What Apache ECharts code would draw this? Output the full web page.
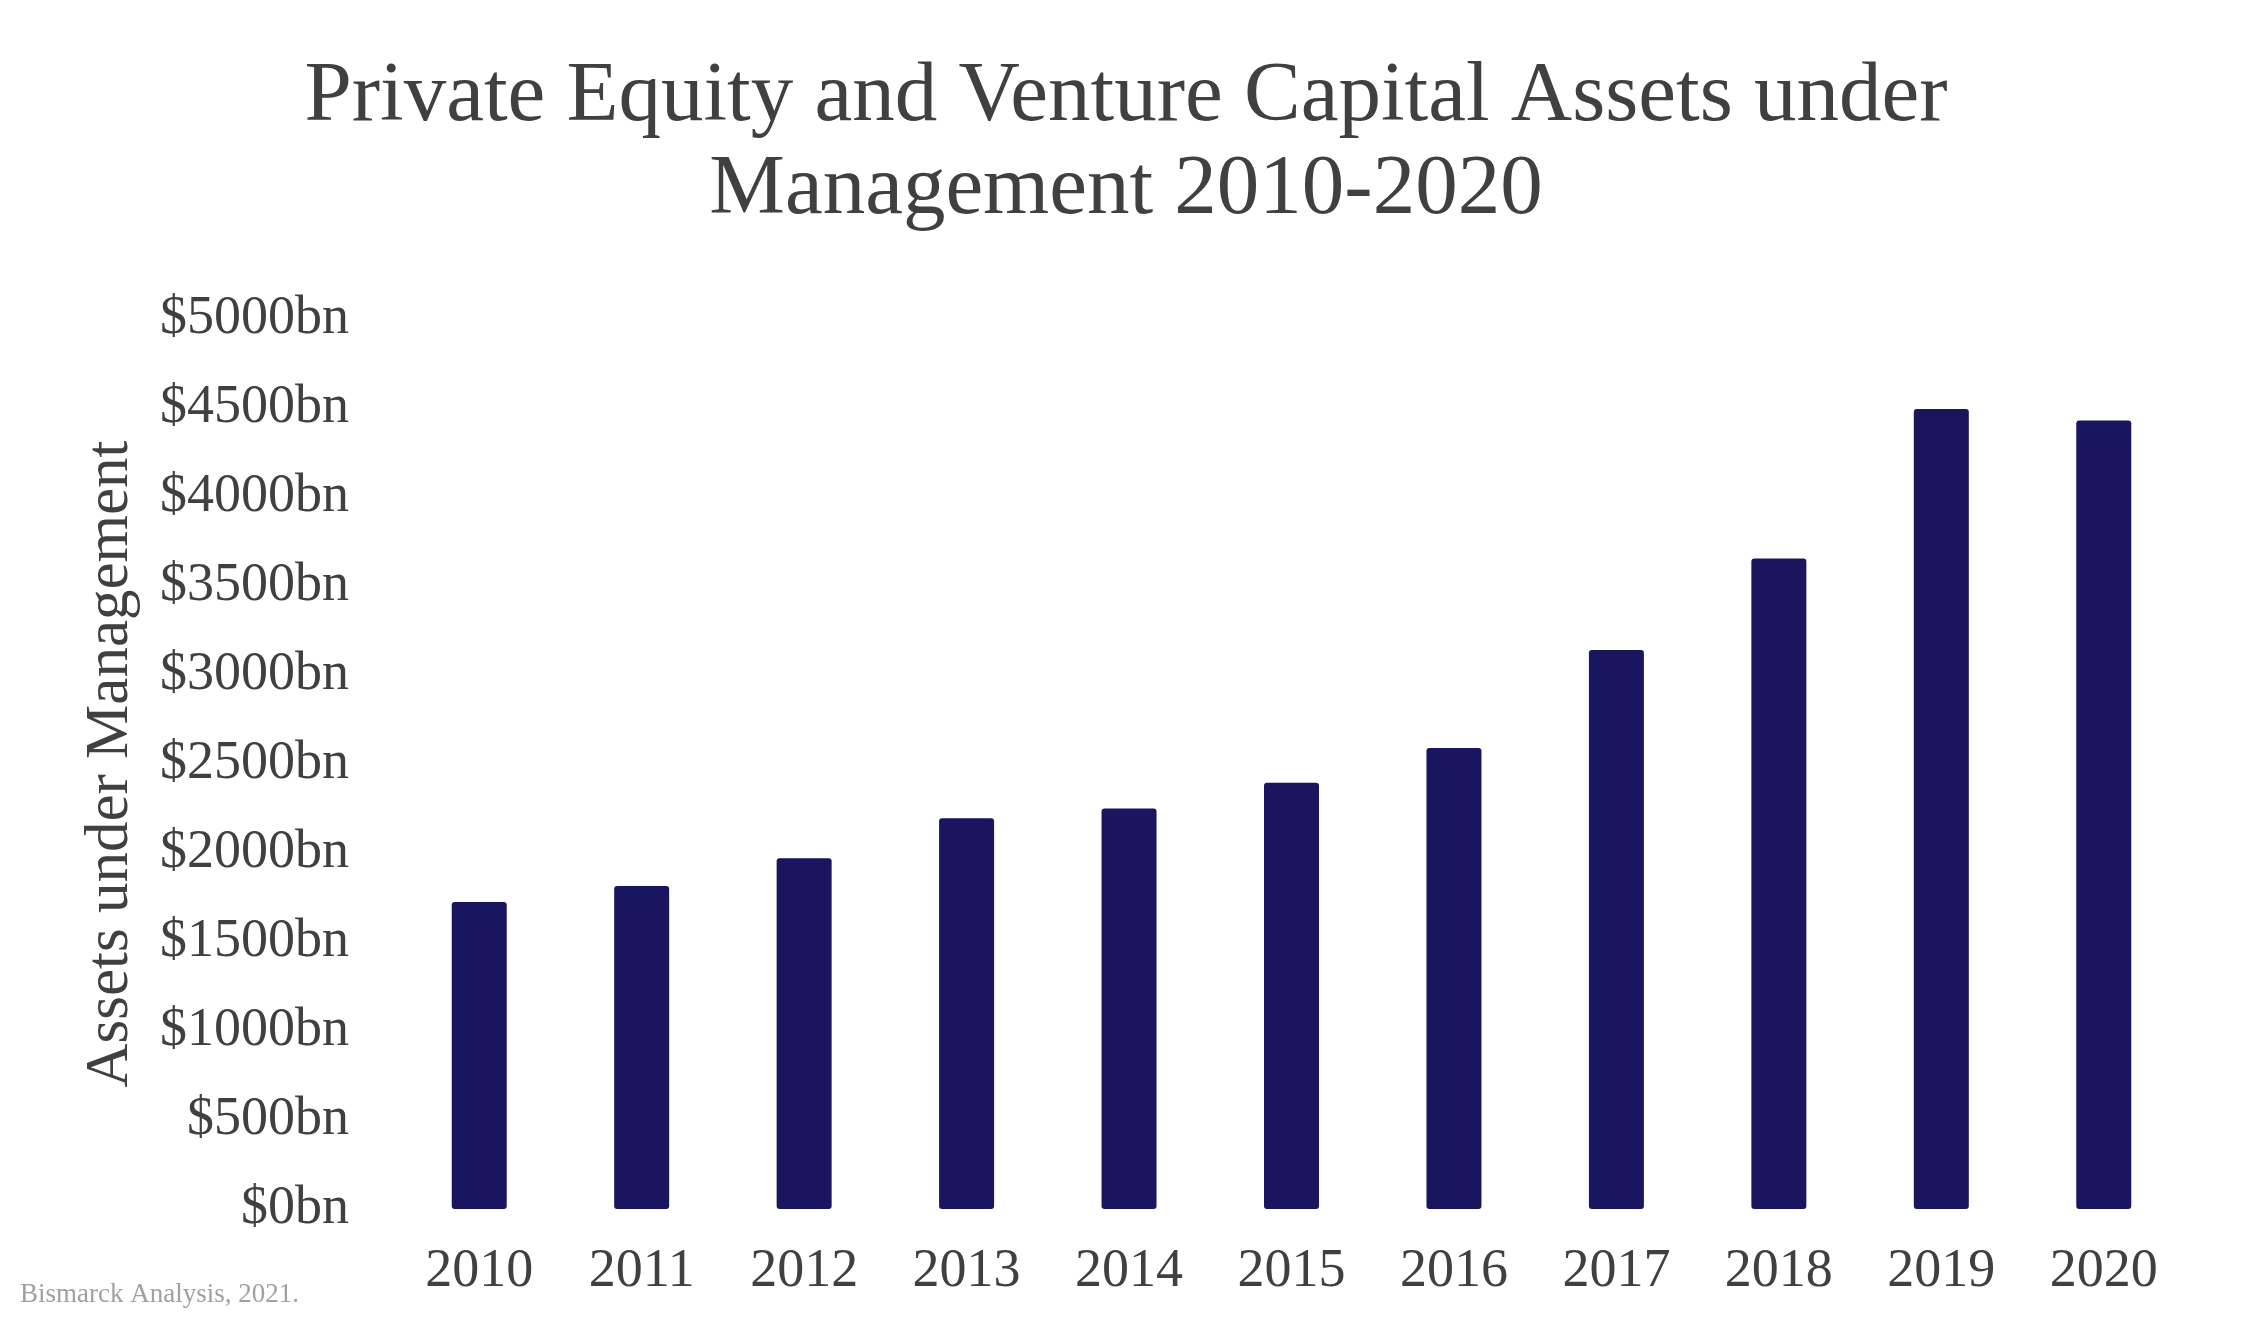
<!DOCTYPE html>
<html>
<head>
<meta charset="utf-8">
<script src="https://cdn.jsdelivr.net/npm/echarts@6/dist/echarts.min.js"></script>
<style>html,body{margin:0;padding:0;background:#fff}#c{width:2252px;height:1326px}</style>
</head>
<body>
<div id="c"></div>
<script>
const categories = ['2010','2011','2012','2013','2014','2015','2016','2017','2018','2019','2020'];
const aumValues = [1725, 1815, 1970, 2195, 2250, 2395, 2590, 3140, 3655, 4495, 4430];
const titleLines = ['Private Equity and Venture Capital Assets under', 'Management 2010-2020'];
const yAxisName = 'Assets under Management';
const sourceNote = 'Bismarck Analysis, 2021.';

const FONT = '"Liberation Serif", "DejaVu Serif", serif';
const chart = echarts.init(document.getElementById('c'));
chart.setOption({
  backgroundColor: '#ffffff',
  animation: false,
  title: [{
    text: titleLines.join('\n'),
    left: 'center',
    top: 46,
    textStyle: { fontFamily: FONT, fontSize: 85, fontWeight: 'normal', color: '#404040', lineHeight: 93 }
  }, {
    text: sourceNote,
    left: 15,
    top: 1276,
    textStyle: { fontFamily: FONT, fontSize: 27, fontWeight: 'normal', color: '#a0a0a0' }
  }],
  grid: { left: 398, right: 67, top: 319, bottom: 117 },
  xAxis: {
    type: 'category',
    data: categories,
    axisLine: { show: false },
    axisTick: { show: false },
    axisLabel: { fontFamily: FONT, fontSize: 54, color: '#404040', margin: 36 }
  },
  yAxis: {
    type: 'value',
    min: 0, max: 5000, interval: 500,
    name: yAxisName,
    nameLocation: 'middle',
    nameGap: 257,
    nameTextStyle: { fontFamily: FONT, fontSize: 61, color: '#404040' },
    axisLine: { show: false },
    axisTick: { show: false },
    splitLine: { show: false },
    axisLabel: { fontFamily: FONT, fontSize: 54, color: '#404040', margin: 49, formatter: v => '$' + v + 'bn' }
  },
  series: [{
    type: 'bar',
    data: aumValues,
    barWidth: 55,
    itemStyle: { color: '#19155F', borderRadius: 3 }
  }]
});
</script>
</body>
</html>
